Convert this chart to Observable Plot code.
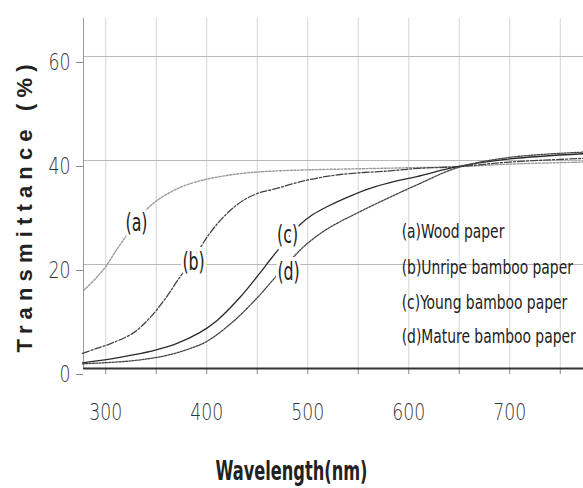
<!DOCTYPE html>
<html>
<head>
<meta charset="utf-8">
<script src="https://cdn.jsdelivr.net/npm/d3@7"></script>
<script src="https://cdn.jsdelivr.net/npm/@observablehq/plot@0.6"></script>
<style>
  html, body { margin: 0; padding: 0; background: #fff; }
  #chart { width: 583px; height: 488px; }
  #chart svg text { font-stretch: condensed; }
</style>
</head>
<body>
<div id="chart"></div>
<script>
// ---- data ----
const wavelengthA = [278, 290, 300, 310, 320, 330, 340, 350, 365, 380, 400, 430, 460, 500, 550, 600, 648, 700, 773];
const woodPaper   = [15.0, 17.3, 19.6, 22.6, 25.4, 28.2, 30.5, 32.2, 34.0, 35.3, 36.4, 37.4, 37.9, 38.2, 38.4, 38.6, 38.8, 39.3, 39.7];

const wavelengthB = [277, 290, 305, 327, 344, 360, 371, 388, 403, 420, 436, 452, 465, 499, 532, 581, 611, 648, 700, 773];
const unripeBamboo = [2.9, 3.8, 4.8, 6.8, 9.8, 13.7, 16.9, 21.5, 26.0, 29.8, 32.3, 33.8, 34.4, 36.2, 37.3, 38.0, 38.5, 38.8, 39.7, 40.4];

const wavelengthC = [277, 304, 327, 350, 370, 393, 410, 433, 452, 464, 477, 492, 505, 519, 539, 561, 588, 608, 648, 700, 773];
const youngBamboo = [1.1, 1.8, 2.6, 3.6, 4.8, 6.9, 9.2, 13.7, 18.2, 21.2, 24.3, 27.6, 29.6, 31.1, 32.9, 34.6, 36.1, 36.9, 38.8, 40.3, 41.3];

const wavelengthD = [277, 327, 360, 383, 400, 426, 450, 465, 482, 497, 519, 549, 581, 608, 648, 700, 773];
const matureBamboo = [0.9, 1.5, 2.5, 3.8, 5.2, 9.0, 13.6, 16.9, 20.6, 23.6, 26.8, 29.9, 32.9, 35.3, 38.6, 40.6, 41.6];

const legendLabels = ["(a)Wood paper", "(b)Unripe bamboo paper", "(c)Young bamboo paper", "(d)Mature bamboo paper"];
const legendX = [593, 593, 593, 593];
const legendY = [26.2, 19.4, 12.7, 6.0];

const curveTags = ["(a)", "(b)", "(c)", "(d)"];
const curveTagX = [330.5, 387, 480, 481];
const curveTagY = [27.9, 20.4, 25.6, 18.5];

const xTickLabels = [300, 400, 500, 600, 700];
const xGrid = [300, 350, 400, 450, 500, 550, 600, 650, 700, 750];
const yTickLabels = [0, 20, 40, 60];

const xTitle = "Wavelength(nm)";
const yTitle = "Transmittance (%)";

// ---- build tables ----
const toRows = (key, xs, ys) => xs.map((x, i) => ({series: key, wl: x, t: ys[i]}));
const rows = {
  a: toRows("a", wavelengthA, woodPaper),
  b: toRows("b", wavelengthB, unripeBamboo),
  c: toRows("c", wavelengthC, youngBamboo),
  d: toRows("d", wavelengthD, matureBamboo)
};
const legendRows = legendLabels.map((l, i) => ({label: l, x: legendX[i], y: legendY[i]}));
const tagRows = curveTags.map((l, i) => ({label: l, x: curveTagX[i], y: curveTagY[i]}));

const sans = "'DejaVu Sans', sans-serif";

const chart = Plot.plot({
  width: 583,
  height: 488,
  marginLeft: 83,
  marginRight: 0,
  marginTop: 18,
  marginBottom: 120,
  style: {background: "#fff", fontFamily: sans, color: "#333"},
  x: {domain: [278, 773]},
  y: {domain: [0, 67.3]},
  marks: [
    // gridlines
    Plot.ruleX(xGrid, {stroke: "#d4d4d4", strokeWidth: 1}),
    Plot.ruleY(yTickLabels.filter(d => d > 0), {stroke: "#b8b8b8", strokeWidth: 1}),
    // y axis line
    Plot.ruleX([278], {stroke: "#999", strokeWidth: 1}),
    // ticks and tick labels
    Plot.axisX(xGrid, {tickSize: 6, tickFormat: () => "", stroke: "#888", label: null}),
    Plot.axisX(xTickLabels, {tickSize: 0, tickPadding: 35, fontSize: 23, fontWeight: 300, fill: "#333", label: null}),
    Plot.axisY(yTickLabels, {tickSize: 7, tickPadding: 6, fontSize: 23, fontWeight: 300, dy: 6, fill: "#333", stroke: "#888", label: null}),
    // curves
    Plot.line(rows.a, {x: "wl", y: "t", curve: "catmull-rom", stroke: "#9a9a9a", strokeWidth: 1.4, strokeDasharray: "2,1.6"}),
    Plot.line(rows.b, {x: "wl", y: "t", curve: "catmull-rom", stroke: "#444", strokeWidth: 1.3, strokeDasharray: "7,2,2,2"}),
    Plot.line(rows.c, {x: "wl", y: "t", curve: "catmull-rom", stroke: "#2a2a2a", strokeWidth: 1.3}),
    Plot.line(rows.d, {x: "wl", y: "t", curve: "catmull-rom", stroke: "#444", strokeWidth: 1.3, strokeDasharray: "2,1.3"}),
    Plot.ruleY([0], {stroke: "#333", strokeWidth: 2}),
    // curve tags (white halo hides the curves behind them, as in the reference)
    Plot.text(tagRows, {x: "x", y: "y", text: "label", fontSize: 24, fill: "#222", stroke: "#fff", strokeWidth: 8}),
    // in-plot legend
    Plot.text(legendRows, {x: "x", y: "y", text: "label", textAnchor: "start", fontSize: 16, fill: "#222"}),
    // titles
    Plot.text([xTitle], {frameAnchor: "bottom", lineAnchor: "bottom", dx: -42, dy: 111, fontSize: 24, fontWeight: "bold", fill: "#222"}),
    Plot.text([yTitle], {frameAnchor: "left", textAnchor: "middle", rotate: -90, dx: -59, dy: 15, fontSize: 22, fontWeight: "bold", fill: "#222",
      fontFamily: "'Liberation Sans', Arial, sans-serif"})
  ]
});

document.getElementById("chart").appendChild(chart);

// condense glyphs to match the narrow typeface of the reference
function fitTexts(filterFn, scaleFn, adjust) {
  const nodes = d3.select(chart).selectAll("text").filter(function() { return filterFn(this.textContent); }).nodes();
  nodes.forEach(n => {
    const L = n.getComputedTextLength();
    n.setAttribute("textLength", scaleFn(L, n.textContent));
    n.setAttribute("lengthAdjust", adjust || "spacingAndGlyphs");
  });
  return nodes;
}
// stretch text vertically around its anchor point (tall, narrow glyphs of the reference)
function stretchY(nodes, k) {
  nodes.forEach(n => {
    const x = +n.getAttribute("x") || 0, y = +n.getAttribute("y") || 0;
    const prev = n.getAttribute("transform") || "";
    n.setAttribute("transform", `${prev} translate(${x},${y}) scale(1,${k}) translate(${-x},${-y})`.trim());
  });
}
const tickSet = new Set([...xTickLabels, ...yTickLabels].map(String));
const tickNode = d3.select(chart).selectAll("text").filter(function() { return this.textContent === "300"; }).node();
const tickFactor = tickNode ? 33 / tickNode.getComputedTextLength() : 0.76;
fitTexts(t => tickSet.has(t), L => L * tickFactor);
// legend: longest line is about 174px wide in the reference
const legendNodes = d3.select(chart).selectAll("text").filter(function() { return legendLabels.includes(this.textContent); }).nodes();
const longest = legendNodes.find(n => n.textContent === legendLabels[3]);
const legendFactor = longest ? Math.min(1, 174 / longest.getComputedTextLength()) : 0.95;
fitTexts(t => legendLabels.includes(t), L => L * legendFactor);
stretchY(legendNodes, 1.2);
// curve tags: "(a)" is about 22px wide
const tagNode = d3.select(chart).selectAll("text").filter(function() { return this.textContent === curveTags[0]; }).node();
const tagFactor = tagNode ? 22 / tagNode.getComputedTextLength() : 0.7;
fitTexts(t => curveTags.includes(t), L => L * tagFactor);
// axis titles
const xTitleNodes = fitTexts(t => t === xTitle, () => 152);
stretchY(xTitleNodes, 1.14);
fitTexts(t => t === yTitle, () => 288, "spacing");
</script>
</body>
</html>
